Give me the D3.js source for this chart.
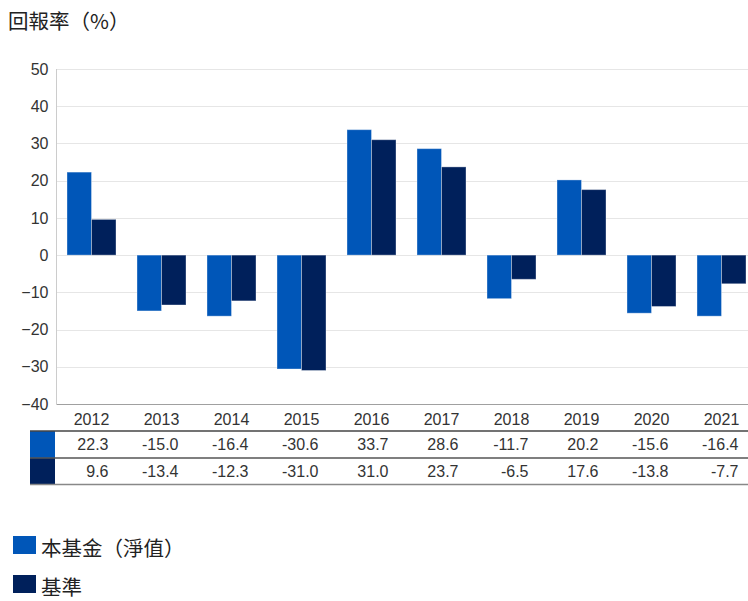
<!DOCTYPE html>
<html>
<head>
<meta charset="utf-8">
<script src="https://cdn.jsdelivr.net/npm/d3@7"></script>
<style>
  html, body { margin: 0; padding: 0; background: #fff; }
  svg { display: block; }
</style>
</head>
<body>
<svg id="chart" width="748" height="601"></svg>
<script>
const years = ["2012","2013","2014","2015","2016","2017","2018","2019","2020","2021"];
const seriesNames = ["本基金（淨值）", "基準"];
const fundValues = [22.3, -15.0, -16.4, -30.6, 33.7, 28.6, -11.7, 20.2, -15.6, -16.4];
const benchValues = [9.6, -13.4, -12.3, -31.0, 31.0, 23.7, -6.5, 17.6, -13.8, -7.7];
const yTicks = [-40, -30, -20, -10, 0, 10, 20, 30, 40, 50];
const colors = ["#0056b8", "#00205b"];
const titleText = "回報率（%）";

(function () {
const svg = d3.select("#chart");
const latin = "'Liberation Sans', Arial, sans-serif";
const cjk = "'Noto Sans CJK TC', 'Noto Sans CJK SC', sans-serif";
const numSize = 16;

const plotLeft = 56.5, plotRight = 756.5, plotTop = 69, plotBottom = 404;
const x = d3.scaleBand().domain(years).range([plotLeft, plotRight]).padding(0);
const xs = d3.scaleBand().domain([0, 1]).range([10.5, 59.5]).padding(0);
const y = d3.scaleLinear().domain([-40, 50]).range([plotBottom, plotTop]);

// Title
svg.append("text").attr("x", 8).attr("y", 29)
  .attr("font-family", cjk).attr("font-size", 20.5).attr("fill", "#222")
  .text(titleText);

// Grid
svg.append("g").selectAll("line").data(yTicks.filter(t => t > -40))
  .join("line")
  .attr("x1", plotLeft).attr("x2", 748)
  .attr("y1", d => Math.round(y(d)) + 0.5).attr("y2", d => Math.round(y(d)) + 0.5)
  .attr("stroke", "#e6e6e6").attr("stroke-width", 1);

// Y axis
const yAxis = d3.axisLeft(y).tickValues(yTicks).tickSize(0).tickPadding(8).tickFormat(d3.format("d"));
const yg = svg.append("g").attr("transform", `translate(${plotLeft},0)`).call(yAxis);
yg.select(".domain").remove();
yg.selectAll("text").attr("font-family", latin).attr("font-size", numSize).attr("fill", "#333");

svg.append("line").attr("x1", 56.5).attr("x2", 56.5).attr("y1", plotTop).attr("y2", plotBottom)
  .attr("stroke", "#cccccc");

// Bars
const data = years.map((yr, i) => ({ yr, vals: [fundValues[i], benchValues[i]] }));
const groups = svg.append("g").selectAll("g").data(data).join("g")
  .attr("transform", d => `translate(${x(d.yr)},0)`);
groups.selectAll("rect").data(d => d.vals.map((v, k) => ({ v, k })))
  .join("rect")
  .attr("x", d => xs(d.k))
  .attr("width", xs.bandwidth())
  .attr("y", d => y(Math.max(0, d.v)))
  .attr("height", d => Math.abs(y(d.v) - y(0)))
  .attr("fill", d => colors[d.k])
  .attr("stroke", "rgba(255,255,255,0.35)")
  .attr("stroke-width", 1);

// Bottom axis line
svg.append("line").attr("x1", plotLeft).attr("x2", 748).attr("y1", 404.5).attr("y2", 404.5)
  .attr("stroke", "#a0a0a0");

// X axis labels
const xAxis = d3.axisBottom(x).tickSize(0).tickPadding(0);
const xg = svg.append("g").attr("transform", `translate(0,${plotBottom})`).call(xAxis);
xg.select(".domain").remove();
xg.selectAll("text").attr("font-family", latin).attr("font-size", numSize).attr("fill", "#333")
  .attr("dy", null).attr("y", 21);

// Table
const rowTop = [431, 458];
const rowH = 27;
const vals = [fundValues, benchValues];
rowTop.forEach((ry, r) => {
  svg.append("rect").attr("x", 30).attr("y", ry).attr("width", 25).attr("height", rowH)
    .attr("fill", colors[r]);
  svg.append("g").selectAll("text").data(years).join("text")
    .attr("x", d => x(d) + x.bandwidth() / 2 + 17)
    .attr("y", ry + 19)
    .attr("text-anchor", "end")
    .attr("font-family", latin).attr("font-size", numSize).attr("fill", "#333")
    .text((d, i) => vals[r][i].toFixed(1));
});
[[431, "#444", 1.5], [458, "#555", 1.5], [484.5, "#888", 1.5]].forEach(([ly, c, w]) => {
  svg.append("line").attr("x1", 30).attr("x2", 748).attr("y1", ly).attr("y2", ly)
    .attr("stroke", c).attr("stroke-width", w);
});

// Legend
const legY = [536, 575];
seriesNames.forEach((name, i) => {
  svg.append("rect").attr("x", 13).attr("y", legY[i]).attr("width", 23).attr("height", 18)
    .attr("fill", colors[i]);
  svg.append("text").attr("x", 41).attr("y", legY[i] + 20)
    .attr("font-family", cjk).attr("font-size", 20.5).attr("fill", "#222")
    .text(name);
});
})();
</script>
</body>
</html>
